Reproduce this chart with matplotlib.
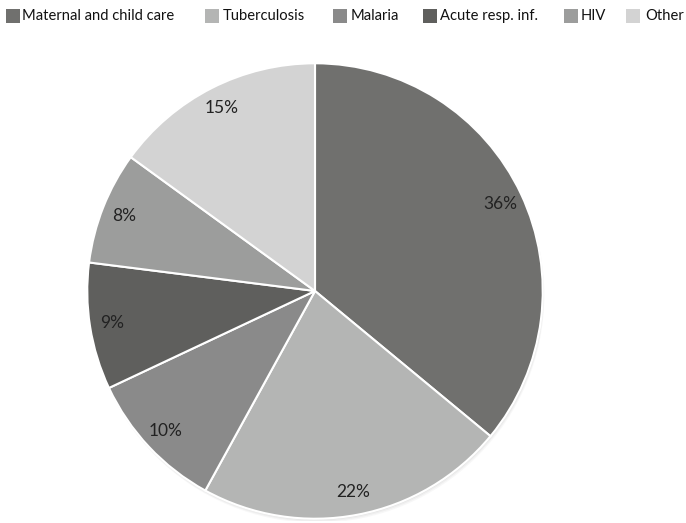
import matplotlib
matplotlib.use("Agg")
import matplotlib.pyplot as plt
from matplotlib.patches import Rectangle, Circle

categories = ["Maternal and child care", "Tuberculosis", "Malaria",
              "Acute resp. inf.", "HIV", "Other"]
shares = [36, 22, 10, 9, 8, 15]
colors = ["#70706e", "#b4b5b4", "#8a8a8a", "#5f5f5d", "#9c9d9c", "#d3d3d3"]

plt.rcParams["font.family"] = ["Lato", "DejaVu Sans"]

W, H = 686, 523
fig = plt.figure(figsize=(W / 100, H / 100), dpi=100)

cx, cy, r = 315, 291, 230
ax = fig.add_axes([(cx - r) / W, (H - cy - r) / H, 2 * r / W, 2 * r / H])

# soft drop shadow under the pie
for i, a in enumerate([0.10, 0.08, 0.06]):
    d = (i + 1) * 0.006
    ax.add_patch(Circle((d * 0.4, -d), 1.0, facecolor="#808080",
                        edgecolor="none", alpha=a, zorder=0))

wedges, texts, autotexts = ax.pie(
    shares, colors=colors, startangle=90, counterclock=False,
    autopct=lambda p: f"{p:.0f}%", pctdistance=0.9, radius=1,
    wedgeprops=dict(edgecolor="white", linewidth=1.5, zorder=2),
    textprops=dict(fontsize=12.5, color="#222222"),
)
for t in autotexts:
    t.set_zorder(3)
ax.set_xlim(-1.01, 1.01)
ax.set_ylim(-1.01, 1.01)
ax.set_aspect("equal")
ax.axis("off")

# legend row along the top edge (positions in pixels from the top-left)
swatch_x = [6, 205, 333, 423, 564, 626]
label_x = [22, 223, 351, 440, 581, 645]
sw, row_y = 14, 16
for name, c, sx, lx in zip(categories, colors, swatch_x, label_x):
    fig.patches.append(Rectangle((sx / W, 1 - (row_y + sw / 2) / H),
                                 sw / W, sw / H, facecolor=c, edgecolor="none",
                                 transform=fig.transFigure, figure=fig))
    fig.text(lx / W, 1 - row_y / H, name, ha="left", va="center",
             fontsize=10.6, color="#111111")

fig.savefig("out.png", dpi=100)
